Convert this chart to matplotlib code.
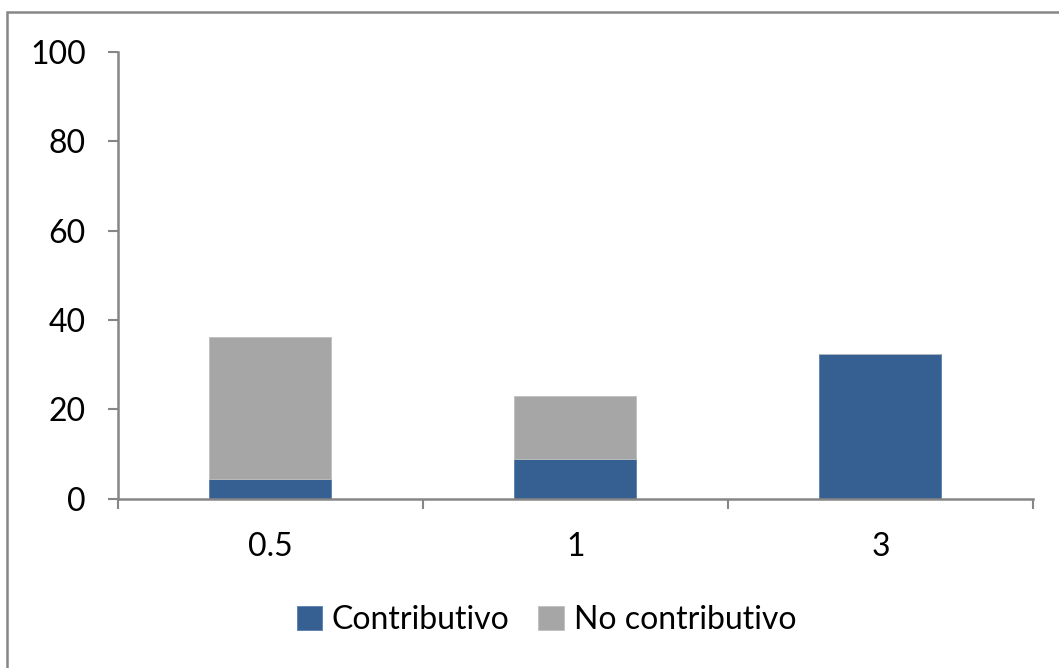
import numpy as np
from matplotlib import pyplot as plt
from matplotlib.patches import Rectangle

# data
categories = ['0.5', '1', '3']
contributivo = [4.4, 8.9, 32.3]
no_contributivo = [31.7, 14.0, 0.0]

plt.rcParams['font.family'] = ['Lato', 'DejaVu Sans']
grey = '#868686'
blue = '#376092'
light = '#A6A6A6'

fig = plt.figure(figsize=(10.59, 6.68), dpi=100)
ax = fig.add_axes([0.1111, 0.2537, 0.8643, 0.6685])

x = np.arange(len(categories))
ax.bar(x, contributivo, width=0.4, color=blue, edgecolor='#5a7fae', linewidth=0.6,
       label='Contributivo')
ax.bar(x, no_contributivo, width=0.4, bottom=contributivo, color=light,
       edgecolor='#c0c0c0', linewidth=0.6, label='No contributivo')

ax.set_xlim(-0.5, 2.5)
ax.set_ylim(0, 100)
ax.set_yticks([0, 20, 40, 60, 80, 100])
ax.tick_params(axis='y', length=7, width=1.5, color=grey, labelsize=23, pad=16)

# category boundaries carry the ticks, labels sit in the middle
ax.set_xticks(np.arange(-0.5, 2.6, 1.0))
ax.set_xticklabels([])
ax.set_xticks(x, minor=True)
ax.set_xticklabels(categories, minor=True)
ax.tick_params(axis='x', which='major', length=7, width=1.5, color=grey, direction='out')
ax.tick_params(axis='x', which='minor', length=0, labelsize=23, pad=24)

for s in ['top', 'right']:
    ax.spines[s].set_visible(False)
for s in ['left', 'bottom']:
    ax.spines[s].set_color(grey)
    ax.spines[s].set_linewidth(1.8)

fig.legend(loc='center', bbox_to_anchor=(0.516, 0.072), ncol=2, frameon=False,
           fontsize=23, handlelength=0.8, handleheight=0.8, handletextpad=0.3,
           columnspacing=0.9)

# outer chart frame
fig.patches.append(Rectangle((0.0066, -0.05), 1.1, 1.032, transform=fig.transFigure,
                             fill=False, edgecolor=grey, linewidth=1.8))

fig.savefig('out.png', dpi=100)
